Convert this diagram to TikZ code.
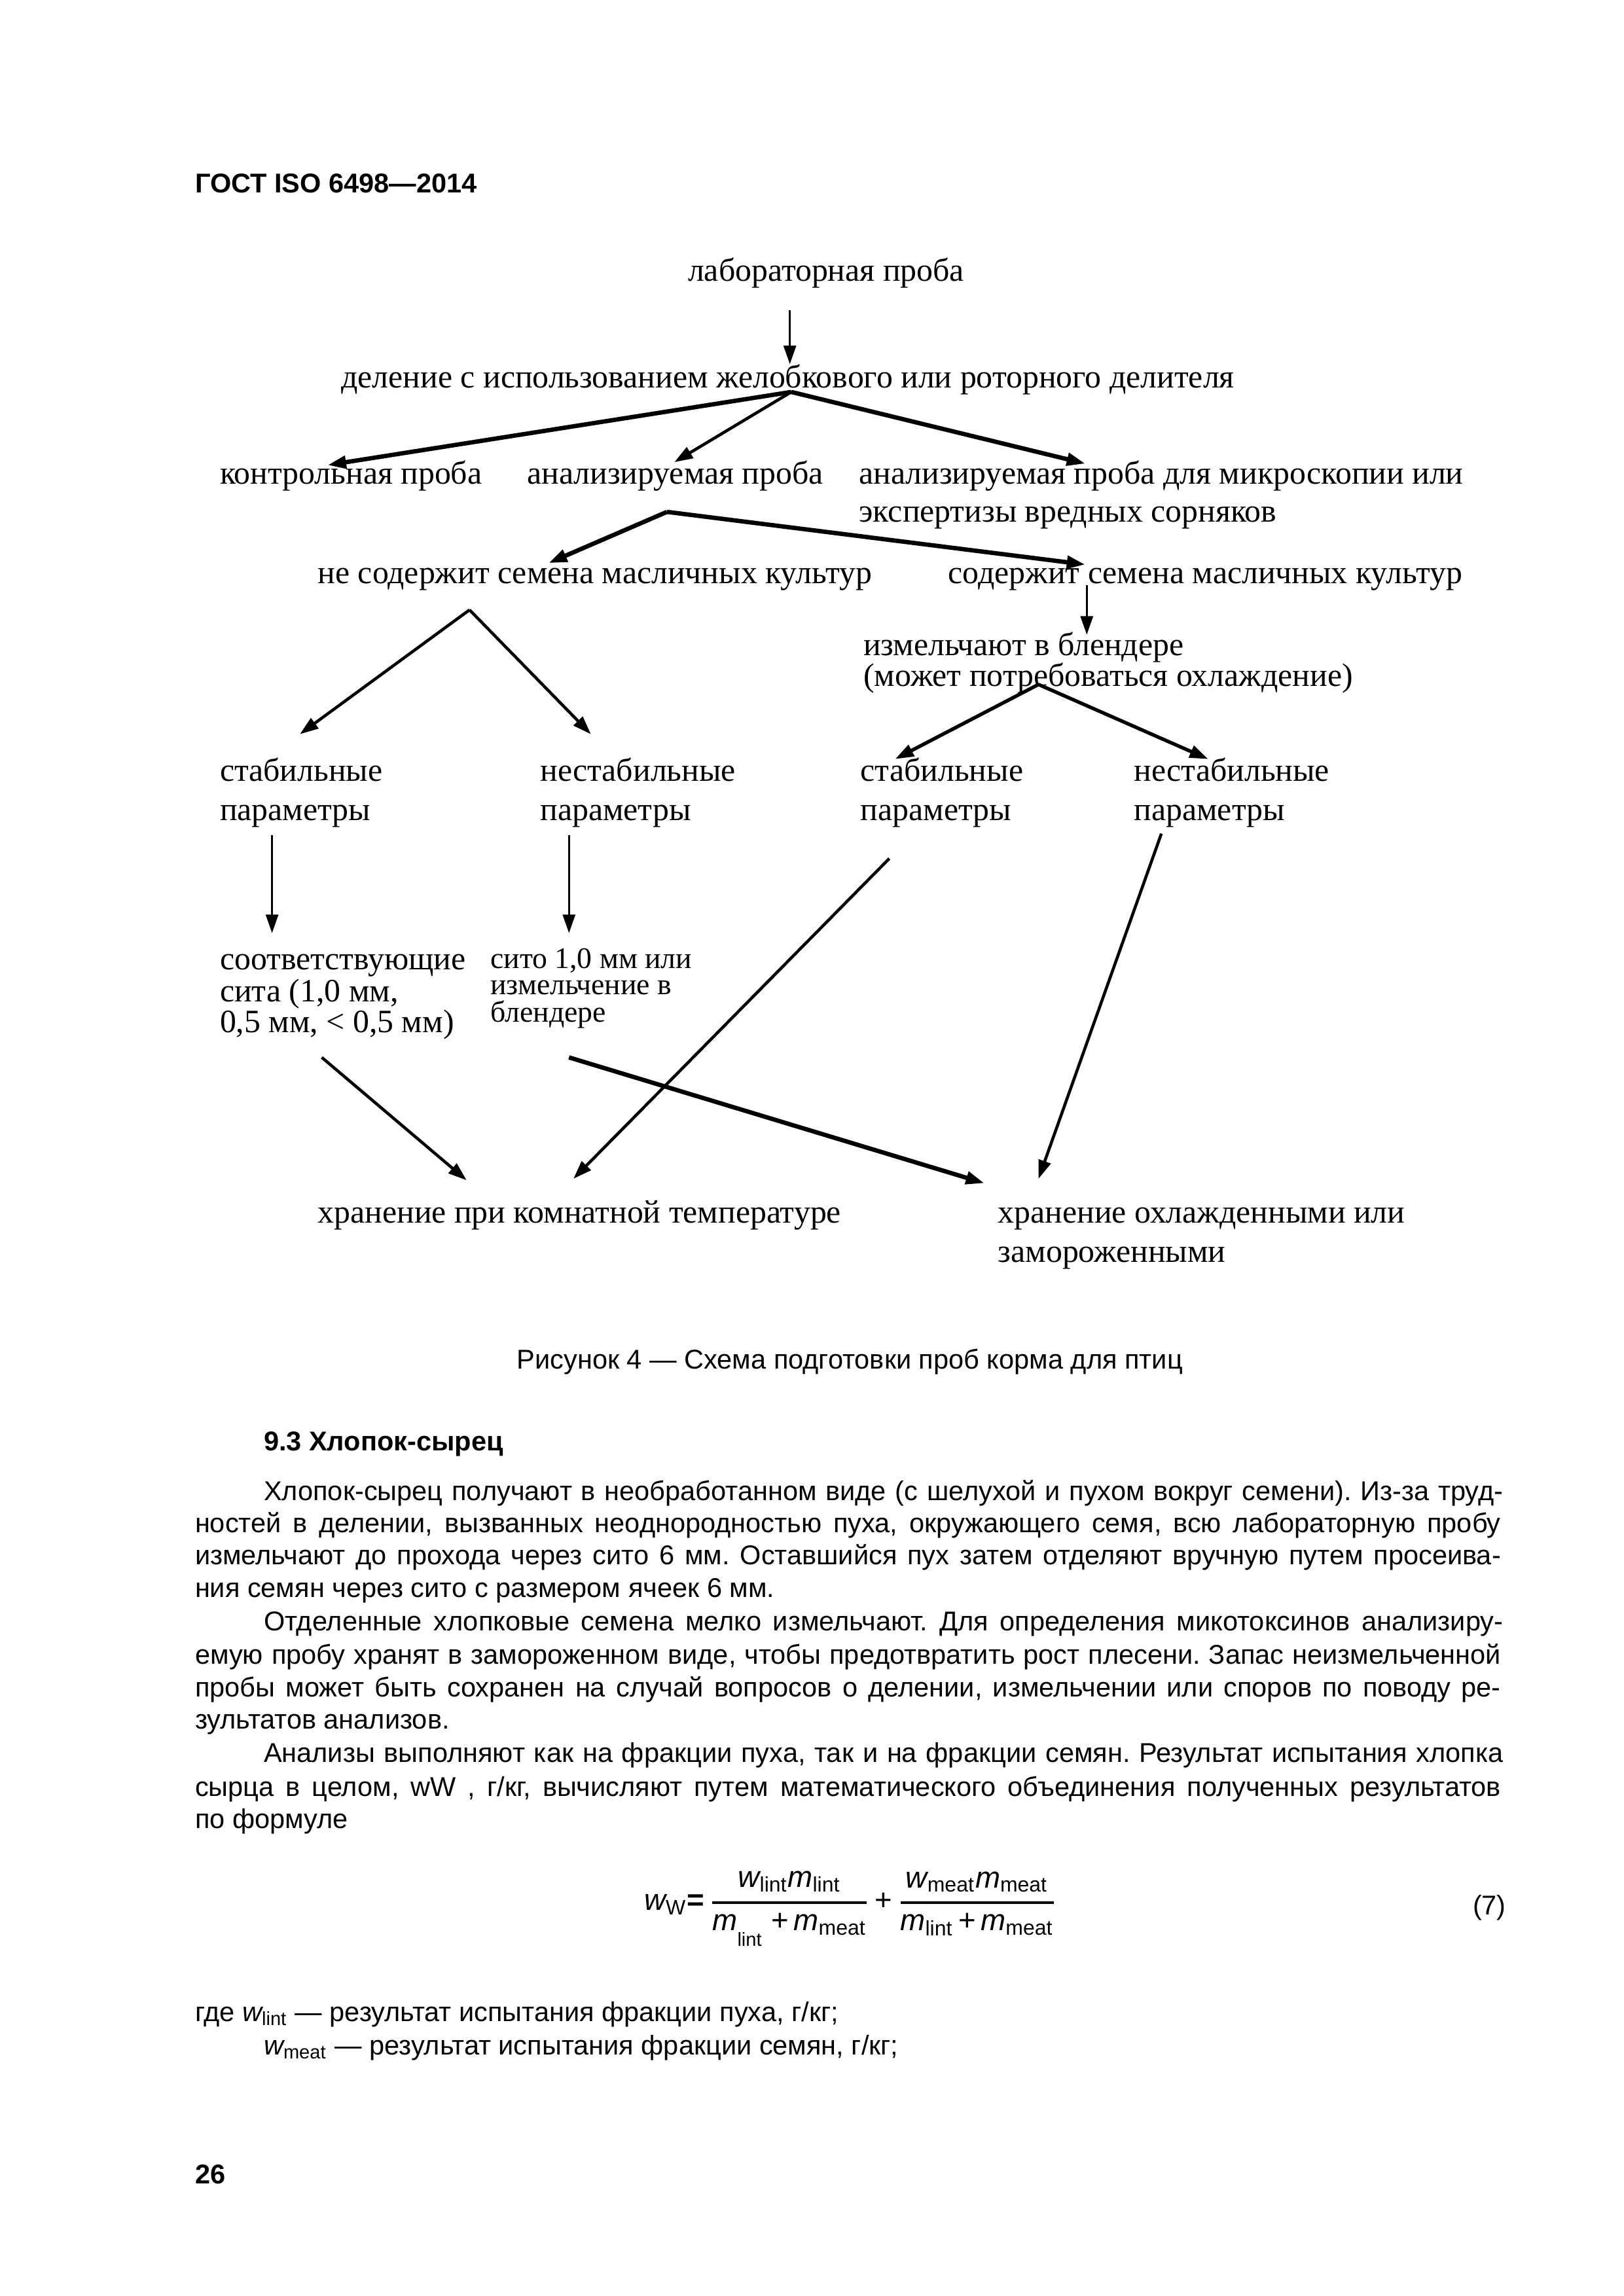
\documentclass[tikz,border=0pt]{standalone}
\usepackage{fontspec}
\usepackage{amsmath}
\setmainfont{Liberation Sans}
\newfontfamily\tnr{Liberation Serif}
\usetikzlibrary{arrows.meta}
\frenchspacing
\newcommand\vv[1]{\text{\itshape #1}}
\newcommand\fr[2]{\genfrac{}{}{1.1pt}{0}{#1}{#2}}
\begin{document}
\begin{tikzpicture}[x=0.189189mm,y=-0.189189mm,
  dg/.style={font=\tnr\fontsize{12}{14}\selectfont, inner sep=0pt, anchor=base west},
  dgs/.style={font=\tnr\fontsize{11}{12}\selectfont, inner sep=0pt, anchor=base west},
  body/.style={font=\frenchspacing\fontsize{10}{12}\selectfont, inner sep=0pt, anchor=base west},
  bodyb/.style={font=\bfseries\fontsize{10}{12}\selectfont, inner sep=0pt, anchor=base west},
  arr/.style={-{Triangle[length=2.4mm,width=1.6mm]}, line width=0.8pt},
  med/.style={arr, line width=1.1pt},
  thk/.style={arr, line width=1.6pt}]
\useasboundingbox[fill=white] (0,0) rectangle (1110,1569.9);

% header
\node[bodyb] (hdr) at (133,132) {ГОСТ ISO 6498—2014};

% diagram texts
\node[dg] (lab) at (470,192) {лабораторная проба};
\node[dg] (del) at (233,265) {деление с использованием желобкового или роторного делителя};
\node[dg] (kon) at (150,331) {контрольная проба};
\node[dg] (ana) at (360,331) {анализируемая проба};
\node[dg] (mik) at (587,331) {анализируемая проба для микроскопии или};
\node[dg] (mik2) at (587,357) {экспертизы вредных сорняков};
\node[dg] (nes) at (217,399) {не содержит семена масличных культур};
\node[dg] (sod) at (648,399) {содержит семена масличных культур};
\node[dg] (izm) at (590,448) {измельчают в блендере};
\node[dg] (izm2) at (590,469) {(может потребоваться охлаждение)};
\node[dg] (s1) at (150,534) {стабильные};
\node[dg] (s1b) at (150,561) {параметры};
\node[dg] (n1) at (369,534) {нестабильные};
\node[dg] (n1b) at (369,561) {параметры};
\node[dg] (s2) at (588,534) {стабильные};
\node[dg] (s2b) at (588,561) {параметры};
\node[dg] (n2) at (775,534) {нестабильные};
\node[dg] (n2b) at (775,561) {параметры};
\node[dg] (sot) at (150,663) {соответствующие};
\node[dg] (sot2) at (150,685) {сита (1,0 мм,};
\node[dg] (sot3) at (150,706) {0,5 мм, < 0,5 мм)};
\node[dgs] (sit) at (335,662) {сито 1,0 мм или};
\node[dgs] (sit2) at (335,680) {измельчение в};
\node[dgs] (sit3) at (335,699) {блендере};
\node[dg] (kom) at (217,836) {хранение при комнатной температуре};
\node[dg] (ohl) at (682,836) {хранение охлажденными или};
\node[dg] (ohl2) at (682,863) {замороженными};

% connector end points
\coordinate (a1s) at (540,212); \coordinate (a1e) at (540,249);
\coordinate (dv) at (541,268);
\coordinate (kt) at (224,318); \coordinate (at) at (461,316); \coordinate (mt) at (742,317);
\coordinate (av) at (456,350);
\coordinate (nt) at (375,385); \coordinate (st) at (742,386);
\coordinate (sv) at (743,400); \coordinate (it) at (743,434);
\coordinate (nv) at (321,417);
\coordinate (s1t) at (205,502); \coordinate (n1t) at (404,502);
\coordinate (iv) at (710,468);
\coordinate (s2t) at (612,519); \coordinate (n2t) at (826,519);
\coordinate (s1v) at (186,571); \coordinate (sott) at (186,638);
\coordinate (n1v) at (389,571); \coordinate (sitt) at (389,638);
\coordinate (s2v) at (608,587); \coordinate (komt1) at (392,806);
\coordinate (n2v) at (794,570); \coordinate (ohlt1) at (710,806);
\coordinate (sotv) at (220,723); \coordinate (komt2) at (319,807);
\coordinate (sitv) at (389,723); \coordinate (ohlt2) at (673,809);

\draw[arr] (a1s) -- (a1e);
\draw[thk] (dv) -- (kt);
\draw[med] (dv) -- (at);
\draw[thk] (dv) -- (mt);
\draw[thk] (av) -- (nt);
\draw[thk] (av) -- (st);
\draw[arr] (sv) -- (it);
\draw[med] (nv) -- (s1t);
\draw[med] (nv) -- (n1t);
\draw[med,line width=1.3pt] (iv) -- (s2t);
\draw[med,line width=1.3pt] (iv) -- (n2t);
\draw[arr] (s1v) -- (sott);
\draw[arr] (n1v) -- (sitt);
\draw[med] (s2v) -- (komt1);
\draw[med] (n2v) -- (ohlt1);
\draw[med] (sotv) -- (komt2);
\draw[thk] (sitv) -- (ohlt2);

% caption
\node[body,anchor=base] (cap) at (581,936) {Рисунок 4 — Схема подготовки проб корма для птиц};

% section
\node[bodyb] (sec) at (180,992) {9.3 Хлопок-сырец};

% paragraphs
\node[body] (p1) at (180,1026) {\makebox[160.3mm][s]{Хлопок-сырец получают в необработанном виде (с шелухой и пухом вокруг семени). Из-за труд-}};
\node[body] (p2) at (133,1048) {\makebox[168.9mm][s]{ностей в делении, вызванных неоднородностью пуха, окружающего семя, всю лабораторную пробу}};
\node[body] (p3) at (133,1070) {\makebox[168.9mm][s]{измельчают до прохода через сито 6 мм. Оставшийся пух затем отделяют вручную путем просеива-}};
\node[body] (p4) at (133,1092) {ния семян через сито с размером ячеек 6 мм.};
\node[body] (p5) at (180,1115) {\makebox[160.3mm][s]{Отделенные хлопковые семена мелко измельчают. Для определения микотоксинов анализиру-}};
\node[body] (p6) at (133,1138) {\makebox[168.9mm][s]{емую пробу хранят в замороженном виде, чтобы предотвратить рост плесени. Запас неизмельченной}};
\node[body] (p7) at (133,1160) {\makebox[168.9mm][s]{пробы может быть сохранен на случай вопросов о делении, измельчении или споров по поводу ре-}};
\node[body] (p8) at (133,1182) {зультатов анализов.};
\node[body] (p9) at (180,1205) {\makebox[160.3mm][s]{Анализы выполняют как на фракции пуха, так и на фракции семян. Результат испытания хлопка}};
\node[body] (p10) at (133,1228) {\makebox[168.9mm][s]{сырца в целом, wW , г/кг, вычисляют путем математического объединения полученных результатов}};
\node[body] (p11) at (133,1250) {по формуле};

% formula
\node[font=\fontsize{11}{13}\selectfont, inner sep=0pt, anchor=west] (frm) at (440,1305) {$\vv{w}_{\text{W}}\text{\bfseries=}\,\fr{\vv{w}_{\text{lint}}\vv{m}_{\text{lint}}}{\vv{m}_{\raisebox{-4pt}{\scriptsize lint}}\;\text{+}\,\vv{m}_{\text{meat}}}\,\text{+}\,\fr{\vv{w}_{\text{meat}}\vv{m}_{\text{meat}}}{\vv{m}_{\text{lint}}\,\text{+}\,\vv{m}_{\text{meat}}}$};
\node[body,anchor=base east] (eqn) at (1030,1309) {(7)};

% where
\node[body] (w1) at (133,1382) {где $\vv{w}_{\text{lint}}$ — результат испытания фракции пуха, г/кг;};
\node[body] (w2) at (180,1405) {$\vv{w}_{\text{meat}}$ — результат испытания фракции семян, г/кг;};

% page number
\node[bodyb] (pg) at (133,1493) {26};
\end{tikzpicture}
\end{document}
